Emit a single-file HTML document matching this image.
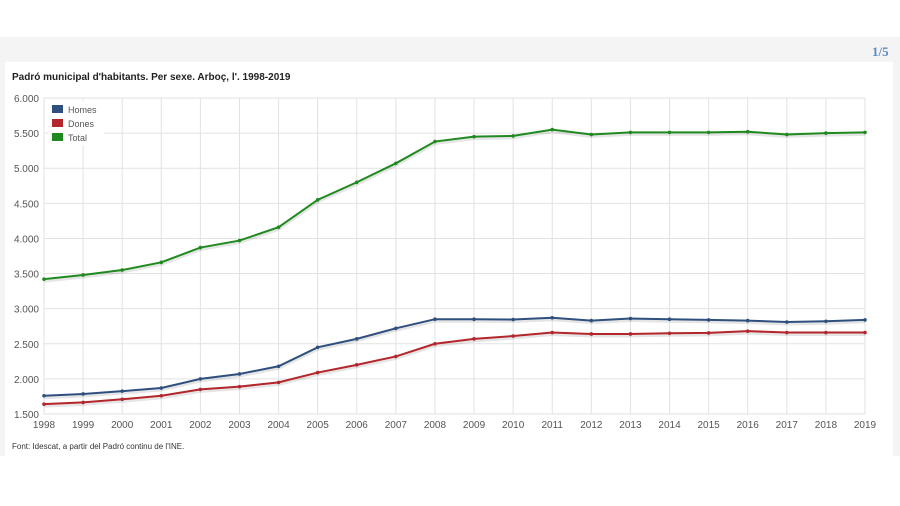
<!DOCTYPE html>
<html><head><meta charset="utf-8"><style>
body{margin:0;width:900px;height:506px;background:#fff;font-family:"Liberation Sans",sans-serif;overflow:hidden}
</style></head><body>
<div style="position:absolute;left:0;top:37px;width:900px;height:419px;background:#f4f4f4"></div>
<div style="position:absolute;left:872px;top:44px;font:bold 13px 'Liberation Serif',serif;color:#5a8ac6">1/5</div>
<div style="position:absolute;left:5px;top:62px;width:888px;height:394px;background:#fff"></div>
<svg id="chart" width="900" height="506" style="position:absolute;left:0;top:0"></svg>
<script>
const years=["1998","1999","2000","2001","2002","2003","2004","2005","2006","2007","2008","2009","2010","2011","2012","2013","2014","2015","2016","2017","2018","2019"];
const homes=[1760,1785,1825,1870,2000,2070,2180,2450,2570,2720,2850,2850,2845,2870,2830,2860,2850,2840,2830,2810,2820,2840];
const dones=[1640,1665,1710,1760,1850,1890,1950,2090,2200,2320,2500,2570,2610,2660,2640,2640,2650,2655,2680,2660,2660,2660];
const total=[3420,3480,3550,3660,3870,3970,4160,4550,4800,5070,5380,5450,5460,5550,5480,5510,5510,5510,5520,5480,5500,5510];
const yTicks=[1500,2000,2500,3000,3500,4000,4500,5000,5500,6000];
const yLabels=["1.500","2.000","2.500","3.000","3.500","4.000","4.500","5.000","5.500","6.000"];
const L=44,R=865,T=98,B=414,ymin=1500,ymax=6000;
const X=i=>L+i*(R-L)/(years.length-1);
const Y=v=>B-(v-ymin)/(ymax-ymin)*(B-T);
const svg=document.getElementById('chart');const NS="http://www.w3.org/2000/svg";
function mk(t,a,p){const e=document.createElementNS(NS,t);for(const k in a)e.setAttribute(k,a[k]);(p||svg).appendChild(e);return e;}
const title=mk('text',{x:12,y:80,'font-size':10,'font-weight':'bold',fill:'#222'});

title.textContent="Padró municipal d'habitants. Per sexe. Arboç, l'. 1998-2019";
yTicks.forEach((v,i)=>{const g=mk('line',{x1:L,x2:R,y1:Y(v),y2:Y(v),stroke:'#e2e2e2'});

const t=mk('text',{x:39,y:Y(v)+4,'text-anchor':'end','font-size':10,fill:'#555'});
t.textContent=yLabels[i];});
years.forEach((yr,i)=>{const g=mk('line',{x1:X(i),x2:X(i),y1:T,y2:B,stroke:'#e2e2e2'});

const t=mk('text',{x:X(i),y:428,'text-anchor':'middle','font-size':10,fill:'#555'});
t.textContent=yr;});
const series=[["homes",homes,"#2f4f7f"],["dones",dones,"#b3262b"],["total",total,"#1f8a1f"]];
series.forEach(([n,d,c])=>{const pts=d.map((v,i)=>X(i)+","+Y(v)).join(" ");
const sh=mk('polyline',{points:pts,fill:'none',stroke:'#000','stroke-opacity':0.1,'stroke-width':4,transform:'translate(0,1.5)'});

const p=mk('polyline',{points:pts,fill:'none',stroke:c,'stroke-width':2});

d.forEach((v,i)=>{const m=mk('circle',{cx:X(i),cy:Y(v),r:1.8,fill:c});
});});
const leg=[["Homes","#2f4f7f"],["Dones","#b3262b"],["Total","#1f8a1f"]];
const lb=mk('rect',{x:48,y:101,width:56,height:44,fill:'#fff'});

leg.forEach(([n,c],i)=>{const r=mk('rect',{x:52,y:105+i*14,width:11,height:8,fill:c});

const t=mk('text',{x:68,y:113+i*14,'font-size':9,fill:'#555'});
t.textContent=n;});
const src=mk('text',{x:12,y:449,'font-size':8,fill:'#333'});

src.textContent="Font: Idescat, a partir del Padró continu de l'INE.";
</script>
</body></html>
